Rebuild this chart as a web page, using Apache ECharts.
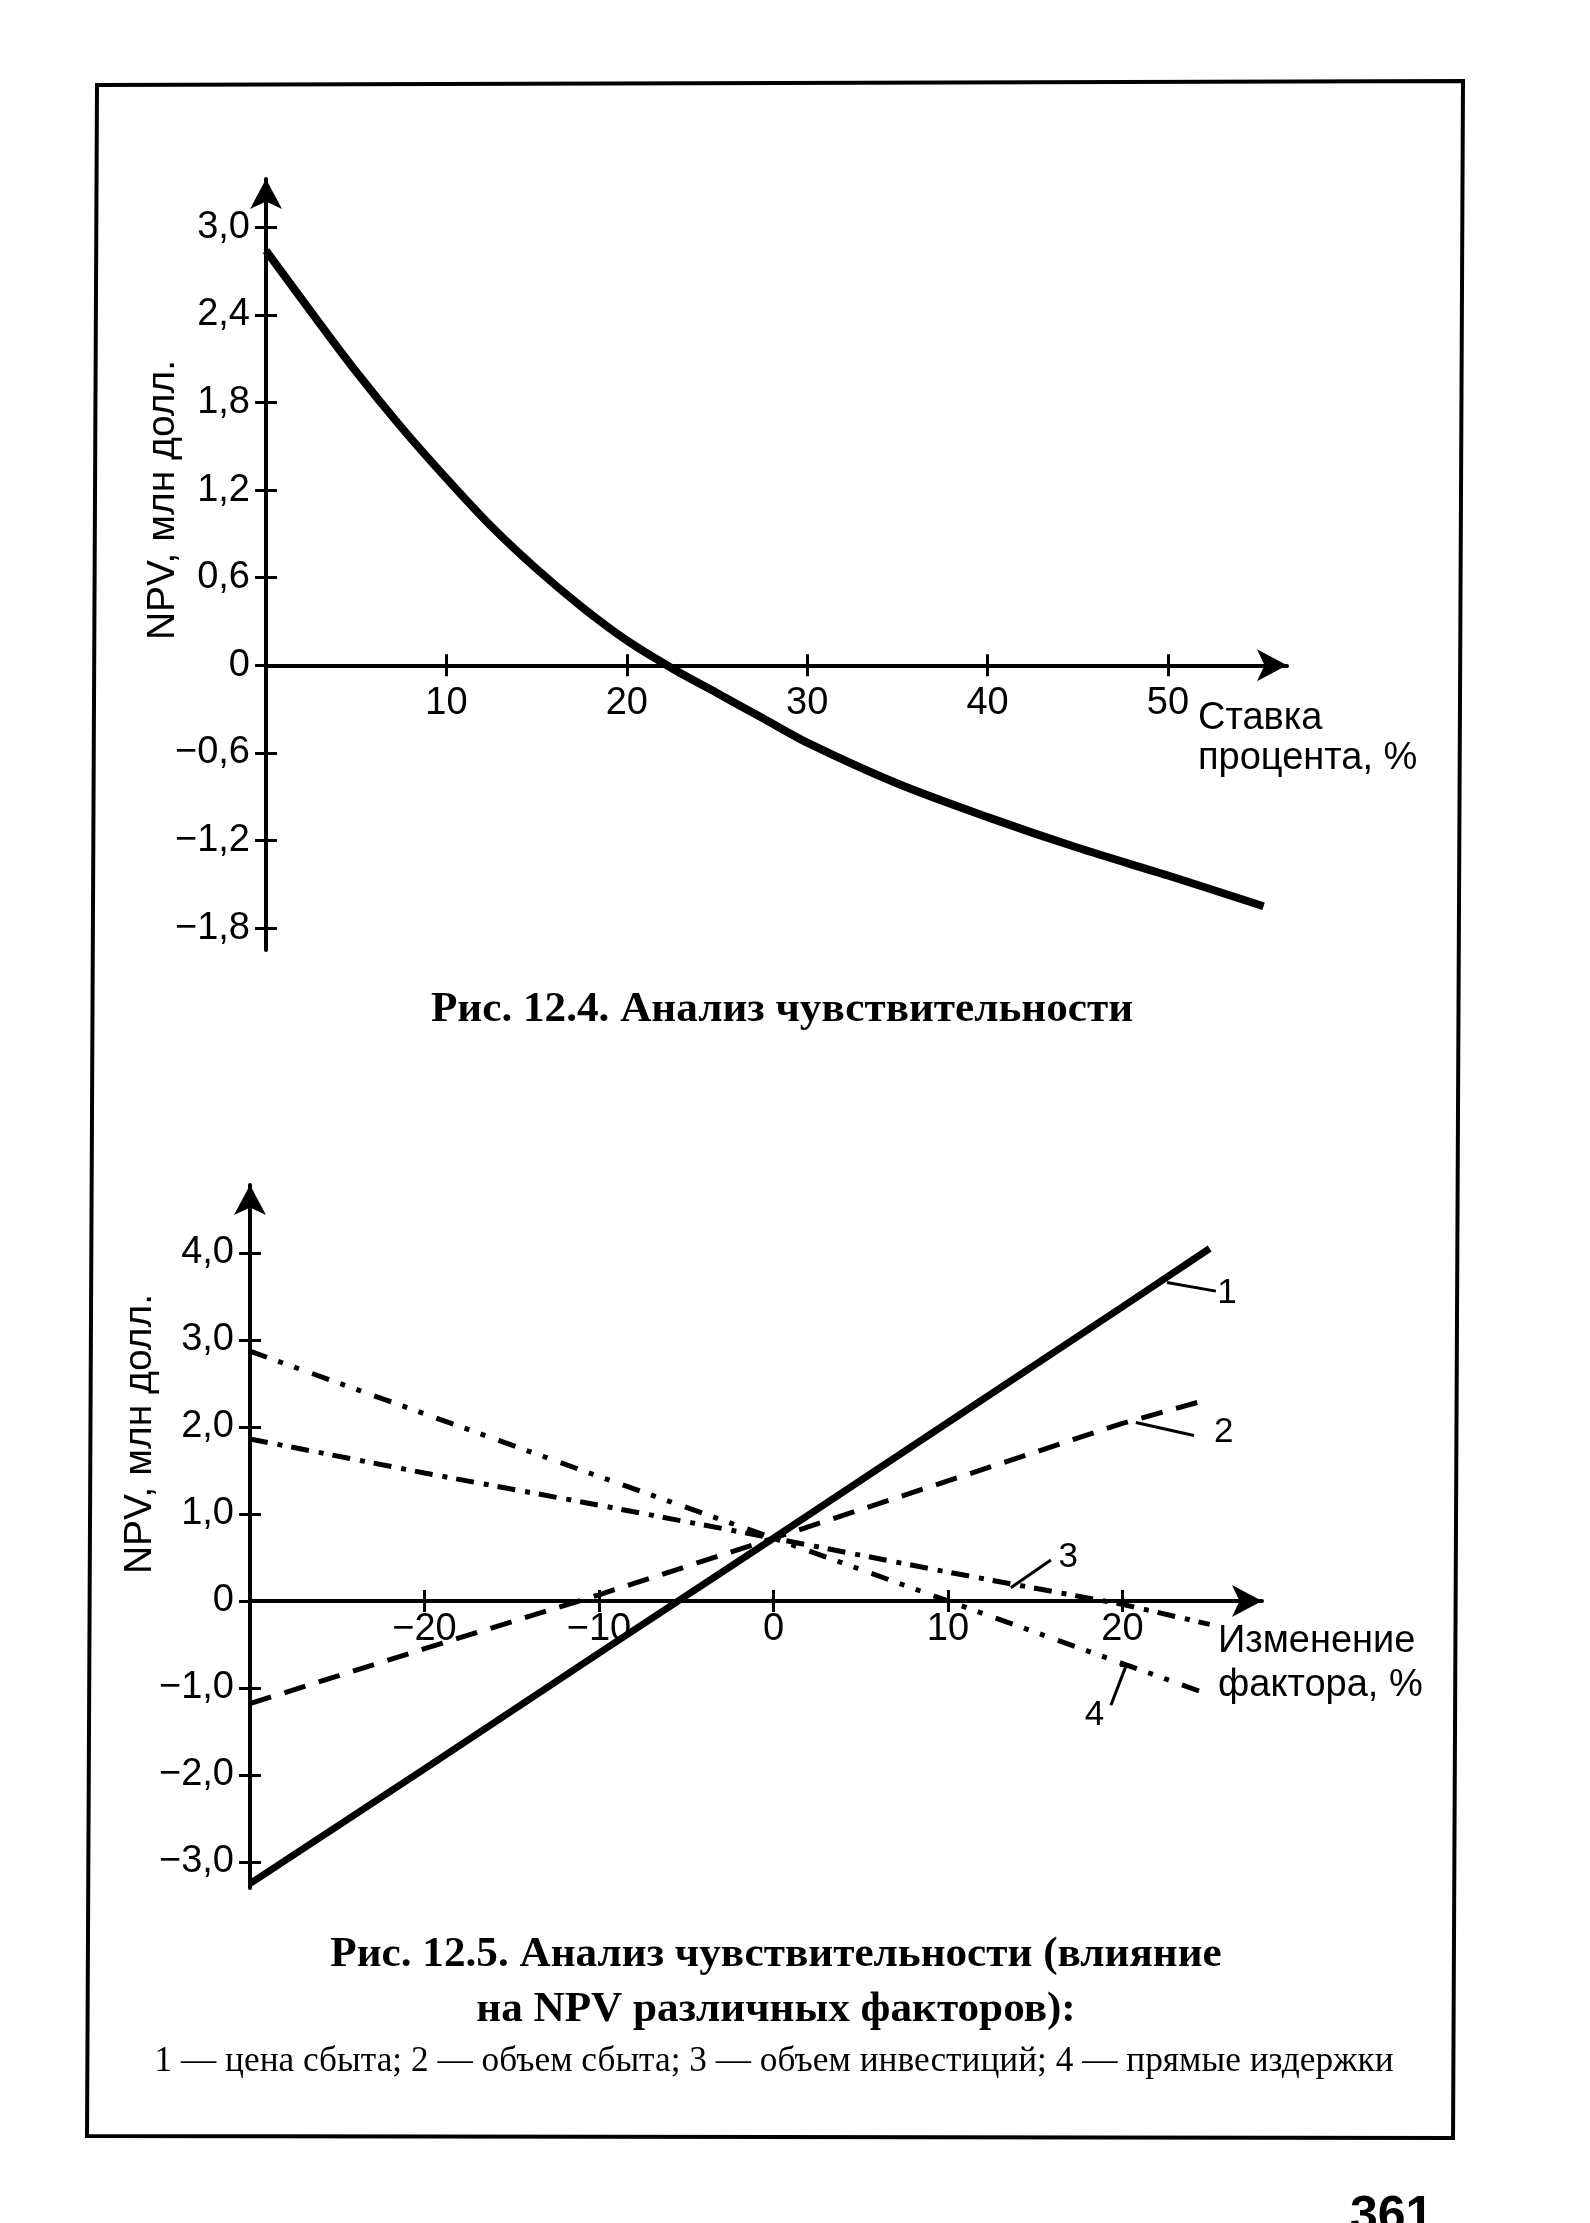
<!DOCTYPE html>
<html>
<head>
<meta charset="utf-8">
<script src="https://cdn.jsdelivr.net/npm/echarts@6.0.0/dist/echarts.min.js"></script>
<style>
  html, body { margin: 0; padding: 0; background: #fff; }
  #c { width: 1590px; height: 2223px; }
</style>
</head>
<body>
<div id="c"></div>
<script>
// ---------- Data ----------
// Fig. 12.4: NPV vs interest rate
const rateTicks = [10, 20, 30, 40, 50];
const npvTicksTop = [-1.8, -1.2, -0.6, 0, 0.6, 1.2, 1.8, 2.4, 3.0];
const rate = [0, 2.5, 5, 7.5, 10, 12.5, 15, 17.5, 20, 22.5, 25, 27.5, 30, 35, 40, 45, 50, 55.3];
const npvByRate = [2.84, 2.42, 2.01, 1.63, 1.28, 0.95, 0.66, 0.40, 0.17, -0.02, -0.19, -0.36, -0.53, -0.81, -1.04, -1.25, -1.44, -1.65];

// Fig. 12.5: NPV vs change of factor
const changeTicks = [-20, -10, 0, 10, 20];
const npvTicksBottom = [-3, -2, -1, 0, 1, 2, 3, 4];
const change = [-30, -20, -10, 0, 10, 20, 25];
const npvPrice = [-3.25, -1.93, -0.60, 0.72, 2.05, 3.38, 4.05];     // 1 — цена сбыта
const npvVolume = [-1.18, -0.55, 0.07, 0.72, 1.38, 2.04, 2.32];     // 2 — объем сбыта
const npvInvest = [1.86, 1.47, 1.10, 0.72, 0.33, -0.04, -0.27];     // 3 — объем инвестиций
const npvCosts = [2.87, 2.15, 1.43, 0.72, 0.00, -0.72, -1.08];      // 4 — прямые издержки
const seriesNumbers = ['1', '2', '3', '4'];

// ---------- Texts ----------
const yName = 'NPV, млн долл.';
const xNameTop = ['Ставка', 'процента, %'];
const xNameBottom = ['Изменение', 'фактора, %'];
const caption1 = 'Рис. 12.4. Анализ чувствительности';
const caption2a = 'Рис. 12.5. Анализ чувствительности (влияние';
const caption2b = 'на NPV различных факторов):';
const caption2c = '1 — цена сбыта; 2 — объем сбыта; 3 — объем инвестиций; 4 — прямые издержки';
const pageNo = '361';

// ---------- Helpers ----------
const SANS = '"Liberation Sans", Arial, Helvetica, sans-serif';
const SERIF = '"Liberation Serif", "Times New Roman", serif';
const MINUS = '\u2212';
function fmtDec(v) {
  if (Math.abs(v) < 1e-9) return '0';
  return (v < 0 ? MINUS : '') + Math.abs(v).toFixed(1).replace('.', ',');
}
function fmtInt(v) {
  if (Math.abs(v) < 1e-9) return '0';
  return (v < 0 ? MINUS : '') + Math.abs(Math.round(v));
}
const zip = (xs, ys) => xs.map((x, i) => [x, ys[i]]);

const AX = { color: '#000', width: 4 };
const TICK = { color: '#000', width: 3 };
const LABEL_FONT = 38;

const grids = [
  { left: 266, top: 179, width: 1021, height: 771, xMin: 0, xMax: 56.6, yMin: -1.95, yMax: 3.33 },
  { left: 250, top: 1185, width: 1012, height: 703, xMin: -30, xMax: 28, yMin: -3.3, yMax: 4.78 }
];
function zeroOffset(gr) {
  // distance from the grid bottom up to y = 0 (the x axis is drawn on the zero line)
  return -gr.height * (0 - gr.yMin) / (gr.yMax - gr.yMin);
}

function yAxisPair(gi, ticks, fmt, labelMargin) {
  const gr = grids[gi];
  const base = { type: 'value', gridIndex: gi, min: gr.yMin, max: gr.yMax, position: 'left', splitLine: { show: false } };
  return [
    Object.assign({}, base, {
      axisLine: { show: true, onZero: false, lineStyle: AX, symbol: ['none', 'arrow'], symbolSize: [24, 30] },
      axisTick: { show: true, inside: false, length: 11, lineStyle: TICK, customValues: ticks },
      axisLabel: { show: true, customValues: ticks, formatter: fmt, margin: labelMargin, color: '#000', fontSize: LABEL_FONT, fontFamily: SANS }
    }),
    Object.assign({}, base, {
      axisLine: { show: false, onZero: false },
      axisTick: { show: true, inside: true, length: 11, lineStyle: TICK, customValues: ticks },
      axisLabel: { show: false }
    })
  ];
}
function xAxisPair(gi, ticks, fmt, labelMargin) {
  const gr = grids[gi];
  const off = zeroOffset(gr);
  const base = { type: 'value', gridIndex: gi, min: gr.xMin, max: gr.xMax, position: 'bottom', offset: off, splitLine: { show: false } };
  return [
    Object.assign({}, base, {
      axisLine: { show: true, onZero: false, lineStyle: AX, symbol: ['none', 'arrow'], symbolSize: [24, 30] },
      axisTick: { show: true, inside: false, length: 11, lineStyle: TICK, customValues: ticks },
      axisLabel: { show: true, customValues: ticks, formatter: fmt, margin: labelMargin, color: '#000', fontSize: LABEL_FONT, fontFamily: SANS }
    }),
    Object.assign({}, base, {
      axisLine: { show: false, onZero: false },
      axisTick: { show: true, inside: true, length: 11, lineStyle: TICK, customValues: ticks },
      axisLabel: { show: false }
    })
  ];
}

const chart = echarts.init(document.getElementById('c'), null, { renderer: 'canvas', width: 1590, height: 2223 });

const option = {
  animation: false,
  backgroundColor: '#fff',
  grid: grids.map(gr => ({ left: gr.left, top: gr.top, width: gr.width, height: gr.height })),
  xAxis: [].concat(
    xAxisPair(0, rateTicks, fmtInt, 19),
    xAxisPair(1, changeTicks, fmtInt, 10)
  ),
  yAxis: [].concat(
    yAxisPair(0, npvTicksTop, fmtDec, 16),
    yAxisPair(1, npvTicksBottom, fmtDec, 16)
  ),
  series: [
    {
      type: 'line', xAxisIndex: 0, yAxisIndex: 0, data: zip(rate, npvByRate),
      smooth: 0.3, showSymbol: false, symbol: 'none',
      lineStyle: { color: '#000', width: 8 }
    },
    {
      name: seriesNumbers[0], type: 'line', xAxisIndex: 2, yAxisIndex: 2, data: zip(change, npvPrice),
      showSymbol: false, symbol: 'none', lineStyle: { color: '#000', width: 7 }
    },
    {
      name: seriesNumbers[1], type: 'line', xAxisIndex: 2, yAxisIndex: 2, data: zip(change, npvVolume),
      showSymbol: false, symbol: 'none', lineStyle: { color: '#000', width: 5, type: [22, 14] }
    },
    {
      name: seriesNumbers[2], type: 'line', xAxisIndex: 2, yAxisIndex: 2, data: zip(change, npvInvest),
      showSymbol: false, symbol: 'none', lineStyle: { color: '#000', width: 5, type: [18, 10, 5, 9] }
    },
    {
      name: seriesNumbers[3], type: 'line', xAxisIndex: 2, yAxisIndex: 2, data: zip(change, npvCosts),
      showSymbol: false, symbol: 'none', lineStyle: { color: '#000', width: 5, type: [18, 12, 5, 12, 5, 14] }
    }
  ]
};
chart.setOption(option);

// ---------- Annotations ----------
const mctx = document.createElement('canvas').getContext('2d');
function fitSize(text, weight, family, target) {
  mctx.font = weight + ' 100px ' + family;
  return 100 * target / mctx.measureText(text).width;
}
function P(x, y) { return chart.convertToPixel({ xAxisIndex: 2, yAxisIndex: 2 }, [x, y]); }

const g = [];
// page frame
g.push({ type: 'polygon', shape: { points: [[97, 85], [1463, 81], [1453, 2138], [87, 2136]] },
  style: { fill: 'none', stroke: '#000', lineWidth: 4 }, z: 10 });

// axis names
g.push({ type: 'text', x: 163, y: 500, rotation: Math.PI / 2,
  style: { text: yName, font: '39px ' + SANS, fill: '#000', align: 'center', verticalAlign: 'middle' } });
g.push({ type: 'text', x: 140, y: 1434, rotation: Math.PI / 2,
  style: { text: yName, font: '39px ' + SANS, fill: '#000', align: 'center', verticalAlign: 'middle' } });
g.push({ type: 'text', x: 1198, y: 719,
  style: { text: xNameTop[0], font: '38px ' + SANS, fill: '#000', align: 'left', verticalAlign: 'middle' } });
g.push({ type: 'text', x: 1198, y: 759,
  style: { text: xNameTop[1], font: '38px ' + SANS, fill: '#000', align: 'left', verticalAlign: 'middle' } });
g.push({ type: 'text', x: 1218, y: 1642,
  style: { text: xNameBottom[0], font: '38px ' + SANS, fill: '#000', align: 'left', verticalAlign: 'middle' } });
g.push({ type: 'text', x: 1218, y: 1686,
  style: { text: xNameBottom[1], font: '38px ' + SANS, fill: '#000', align: 'left', verticalAlign: 'middle' } });

// series number leaders (positions in data coordinates of the lower chart)
const leaders = [
  { from: [22.55, 3.66], to: [25.36, 3.56], at: [26.0, 3.54] },
  { from: [20.77, 2.05], to: [24.1, 1.90], at: [25.8, 1.94] },
  { from: [13.6, 0.15], to: [15.9, 0.47], at: [16.9, 0.50] },
  { from: [19.34, -1.20], to: [20.2, -0.75], at: [18.4, -1.32] }
];
leaders.forEach(function (l, i) {
  const a = P(l.from[0], l.from[1]), b = P(l.to[0], l.to[1]), t = P(l.at[0], l.at[1]);
  g.push({ type: 'line', shape: { x1: a[0], y1: a[1], x2: b[0], y2: b[1] }, style: { stroke: '#000', lineWidth: 3 } });
  g.push({ type: 'text', x: t[0], y: t[1],
    style: { text: seriesNumbers[i], font: '35px ' + SANS, fill: '#000', align: 'center', verticalAlign: 'middle' } });
});
(function () {
  const a = P(19.85, -0.74), b = P(20.6, -0.75);
  g.push({ type: 'line', shape: { x1: a[0], y1: a[1], x2: b[0], y2: b[1] }, style: { stroke: '#000', lineWidth: 3 } });
})();

// captions
const s1 = fitSize(caption1, 'bold', SERIF, 703);
g.push({ type: 'text', x: 782, y: 1010,
  style: { text: caption1, font: 'bold ' + s1.toFixed(1) + 'px ' + SERIF, fill: '#000', align: 'center', verticalAlign: 'middle' } });
const s2 = fitSize(caption2a, 'bold', SERIF, 892);
g.push({ type: 'text', x: 776, y: 1955,
  style: { text: caption2a, font: 'bold ' + s2.toFixed(1) + 'px ' + SERIF, fill: '#000', align: 'center', verticalAlign: 'middle' } });
g.push({ type: 'text', x: 776, y: 2010,
  style: { text: caption2b, font: 'bold ' + s2.toFixed(1) + 'px ' + SERIF, fill: '#000', align: 'center', verticalAlign: 'middle' } });
const s3 = fitSize(caption2c, 'normal', SERIF, 1240);
g.push({ type: 'text', x: 774, y: 2062,
  style: { text: caption2c, font: s3.toFixed(1) + 'px ' + SERIF, fill: '#000', align: 'center', verticalAlign: 'middle' } });

// page number (cut by the page edge)
g.push({ type: 'text', x: 1350, y: 2192,
  style: { text: pageNo, font: 'bold 50px ' + SANS, fill: '#000', align: 'left', verticalAlign: 'top' } });

chart.setOption({ graphic: { elements: g } });
</script>
</body>
</html>
